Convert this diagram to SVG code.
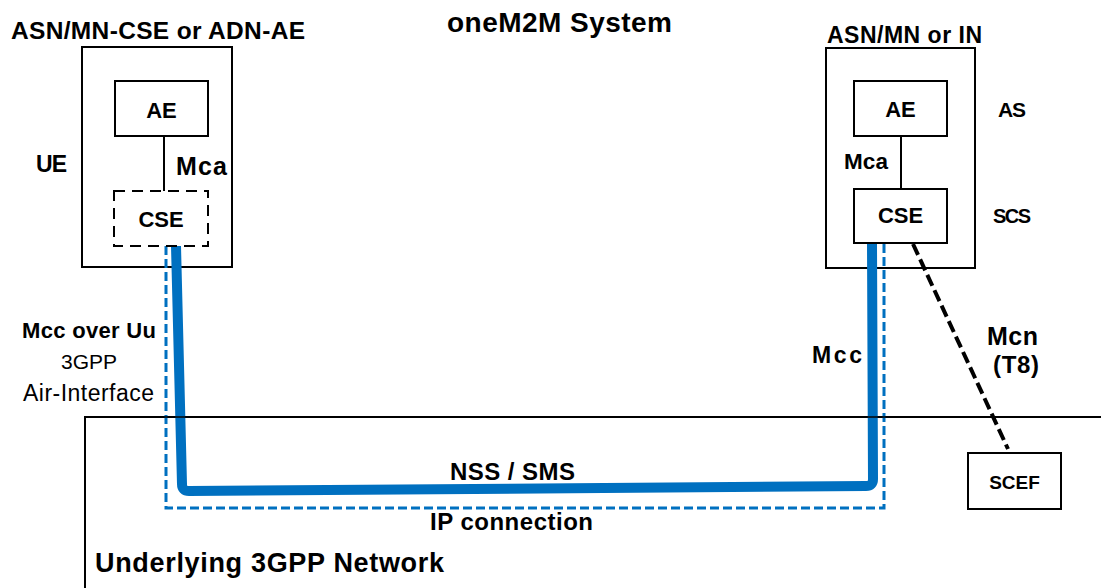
<svg xmlns="http://www.w3.org/2000/svg" width="1101" height="588" viewBox="0 0 1101 588">
<style>
text{font-family:"Liberation Sans",Arial,sans-serif;font-weight:bold;fill:#000}
.r{font-weight:normal}
.box{fill:#fff;stroke:#000;stroke-width:2}
.dbox{fill:#fff;stroke:#000;stroke-width:2;stroke-dasharray:11,7}
.ln{stroke:#000;stroke-width:2;fill:none}
</style>
<rect width="1101" height="588" fill="#fff"/>
<g id="labels">
<text x="447" y="32" font-size="28" textLength="225">oneM2M System</text>
</g>
<g id="ue">
<text x="11" y="39" font-size="24.5" textLength="294">ASN/MN-CSE or ADN-AE</text>
<rect class="box" x="82" y="47" width="150" height="220"/>
<text x="36" y="172" font-size="23" textLength="31">UE</text>
</g>
<g id="as">
<text x="827" y="43" font-size="23" textLength="155">ASN/MN or IN</text>
<rect class="box" x="826" y="48" width="149" height="220"/>
<text x="998" y="117" font-size="21" textLength="28">AS</text>
<text x="993" y="223" font-size="20" textLength="38">SCS</text>
</g>
<g id="network">
<path class="ln" d="M85,588 V417 H1101" stroke-width="1.5"/>
<text x="95" y="572" font-size="27" textLength="349">Underlying 3GPP Network</text>
</g>
<g id="connectors">
<line class="ln" x1="164" y1="136" x2="164" y2="191"/>
<line class="ln" x1="901" y1="136" x2="901" y2="189"/>
<path d="M166,246 V508 H884 V243" fill="none" stroke="#0070C0" stroke-width="3" stroke-dasharray="9,4"/>
<path d="M176,246 L182,484 Q182,491 189,491 L866,486 Q873,486 873,479 L872,243" fill="none" stroke="#0070C0" stroke-width="10" stroke-linejoin="round"/>
<line x1="913" y1="244" x2="1008" y2="449" stroke="#000" stroke-width="4" stroke-dasharray="12,5"/>
<line x1="85" y1="417" x2="1101" y2="417" stroke="#000" stroke-width="1.5"/>
<text x="176" y="175" font-size="25" textLength="51">Mca</text>
<text x="844" y="169" font-size="22.5" textLength="44">Mca</text>
<text x="22" y="338" font-size="22" textLength="134">Mcc over Uu</text>
<text class="r" x="89" y="369" font-size="21" text-anchor="middle">3GPP</text>
<text class="r" x="23" y="401" font-size="23" textLength="131">Air-Interface</text>
<text x="812" y="363" font-size="23" textLength="50">Mcc</text>
<text x="987" y="345" font-size="25" textLength="51">Mcn</text>
<text x="993" y="373" font-size="24" textLength="46">(T8)</text>
<text x="450" y="480" font-size="24" textLength="125">NSS / SMS</text>
<text x="430" y="530" font-size="24" textLength="163">IP connection</text>
</g>
<g id="ae1">
<rect class="box" x="115" y="81" width="93" height="55"/>
<text x="161.5" y="118" font-size="22" text-anchor="middle">AE</text>
</g>
<g id="cse1">
<rect class="dbox" x="114" y="191" width="94" height="55"/>
<text x="161" y="227" font-size="22" text-anchor="middle">CSE</text>
</g>
<g id="ae2">
<rect class="box" x="854" y="81" width="93" height="55"/>
<text x="900.5" y="117" font-size="22" text-anchor="middle">AE</text>
</g>
<g id="cse2">
<rect class="box" x="854" y="189" width="93" height="54"/>
<text x="900.5" y="223" font-size="22" text-anchor="middle">CSE</text>
</g>
<g id="scef">
<rect class="box" x="968" y="453" width="93" height="56"/>
<text x="1014.5" y="489" font-size="19" text-anchor="middle">SCEF</text>
</g>
</svg>
